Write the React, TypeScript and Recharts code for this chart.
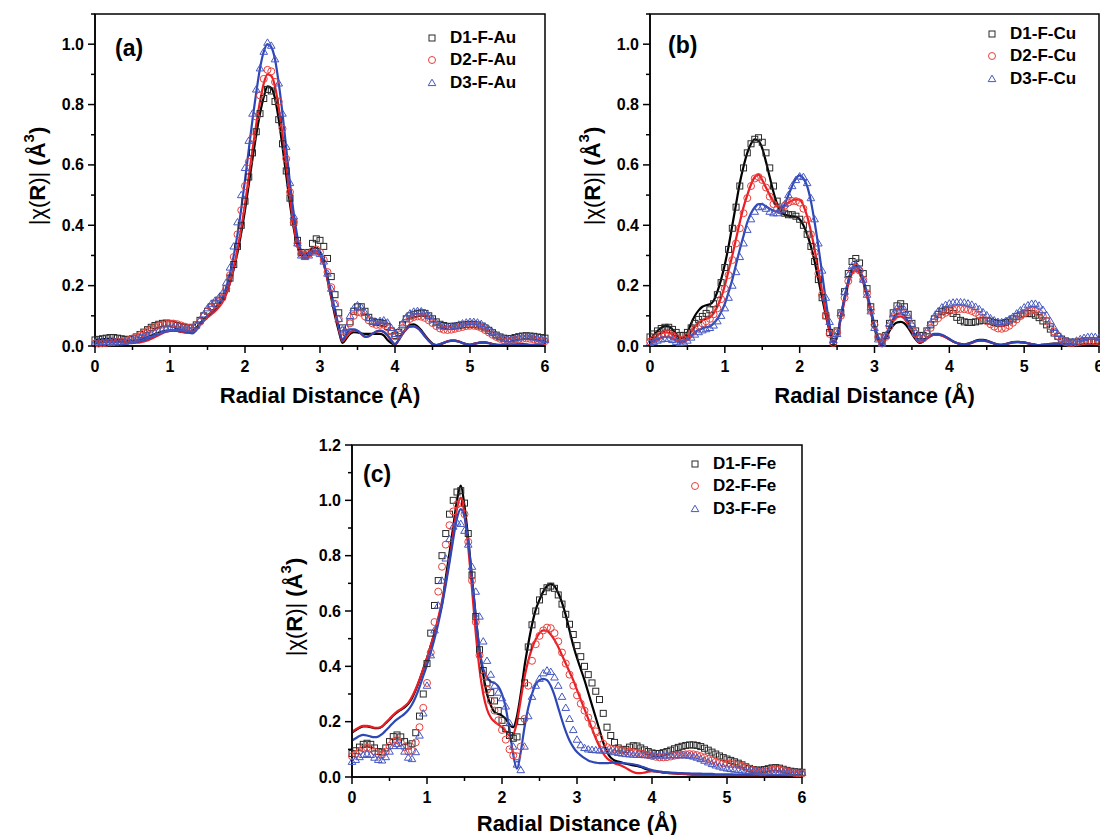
import React from 'react';
import { ComposedChart, Line, Scatter, XAxis, YAxis, ReferenceArea, Legend } from 'recharts';

// radial distance grid (Å)
const R = [
  0, 0.05, 0.1, 0.15, 0.2, 0.25, 0.3, 0.35, 0.4, 0.45,
  0.5, 0.55, 0.6, 0.65, 0.7, 0.75, 0.8, 0.85, 0.9, 0.95,
  1, 1.05, 1.1, 1.15, 1.2, 1.25, 1.3, 1.35, 1.4, 1.45,
  1.5, 1.55, 1.6, 1.65, 1.7, 1.75, 1.8, 1.85, 1.9, 1.95,
  2, 2.05, 2.1, 2.15, 2.2, 2.25, 2.3, 2.35, 2.4, 2.45,
  2.5, 2.55, 2.6, 2.65, 2.7, 2.75, 2.8, 2.85, 2.9, 2.95,
  3, 3.05, 3.1, 3.15, 3.2, 3.25, 3.3, 3.35, 3.4, 3.45,
  3.5, 3.55, 3.6, 3.65, 3.7, 3.75, 3.8, 3.85, 3.9, 3.95,
  4, 4.05, 4.1, 4.15, 4.2, 4.25, 4.3, 4.35, 4.4, 4.45,
  4.5, 4.55, 4.6, 4.65, 4.7, 4.75, 4.8, 4.85, 4.9, 4.95,
  5, 5.05, 5.1, 5.15, 5.2, 5.25, 5.3, 5.35, 5.4, 5.45,
  5.5, 5.55, 5.6, 5.65, 5.7, 5.75, 5.8, 5.85, 5.9, 5.95,
  6,
];

const X_TICKS = [0, 0.5, 1, 1.5, 2, 2.5, 3, 3.5, 4, 4.5, 5, 5.5, 6];
const Y_TICKS_AB = [0, 0.1, 0.2, 0.3, 0.4, 0.5, 0.6, 0.7, 0.8, 0.9, 1.0, 1.1];
const Y_TICKS_C = [0, 0.1, 0.2, 0.3, 0.4, 0.5, 0.6, 0.7, 0.8, 0.9, 1.0, 1.1, 1.2];

const NAMES_A = ['D1-F-Au', 'D2-F-Au', 'D3-F-Au'];
const NAMES_B = ['D1-F-Cu', 'D2-F-Cu', 'D3-F-Cu'];
const NAMES_C = ['D1-F-Fe', 'D2-F-Fe', 'D3-F-Fe'];

// ---- panel (a): Au ----
const A_D1 = [
  0.020, 0.022, 0.024, 0.026, 0.028, 0.028, 0.026, 0.024, 0.022, 0.022,
  0.024, 0.030, 0.038, 0.046, 0.054, 0.062, 0.068, 0.072, 0.075, 0.076,
  0.075, 0.072, 0.068, 0.064, 0.062, 0.060, 0.062, 0.070, 0.085, 0.100,
  0.115, 0.130, 0.142, 0.152, 0.165, 0.190, 0.225, 0.270, 0.330, 0.400,
  0.480, 0.560, 0.640, 0.710, 0.770, 0.820, 0.850, 0.845, 0.810, 0.750,
  0.670, 0.580, 0.490, 0.410, 0.350, 0.310, 0.300, 0.310, 0.340, 0.355,
  0.350, 0.330, 0.290, 0.230, 0.170, 0.110, 0.060, 0.045, 0.080, 0.115,
  0.130, 0.130, 0.115, 0.095, 0.082, 0.078, 0.078, 0.075, 0.065, 0.050,
  0.035, 0.045, 0.070, 0.090, 0.100, 0.105, 0.108, 0.110, 0.108, 0.100,
  0.090, 0.080, 0.072, 0.068, 0.065, 0.065, 0.066, 0.068, 0.070, 0.071,
  0.072, 0.072, 0.070, 0.066, 0.060, 0.052, 0.044, 0.036, 0.030, 0.026,
  0.024, 0.025, 0.028, 0.031, 0.033, 0.034, 0.033, 0.032, 0.030, 0.028,
  0.026,
];
const A_D2 = [
  0.008, 0.008, 0.009, 0.010, 0.012, 0.013, 0.014, 0.015, 0.017, 0.020,
  0.025, 0.030, 0.036, 0.042, 0.050, 0.057, 0.063, 0.068, 0.071, 0.073,
  0.074, 0.074, 0.072, 0.068, 0.064, 0.060, 0.060, 0.066, 0.080, 0.098,
  0.115, 0.128, 0.138, 0.147, 0.160, 0.190, 0.235, 0.295, 0.370, 0.450,
  0.530, 0.610, 0.690, 0.760, 0.830, 0.885, 0.915, 0.910, 0.875, 0.810,
  0.720, 0.620, 0.510, 0.410, 0.340, 0.305, 0.300, 0.305, 0.315, 0.320,
  0.310, 0.285, 0.245, 0.195, 0.140, 0.090, 0.050, 0.045, 0.075, 0.100,
  0.112, 0.110, 0.098, 0.085, 0.075, 0.070, 0.070, 0.070, 0.062, 0.048,
  0.032, 0.038, 0.060, 0.078, 0.090, 0.096, 0.098, 0.097, 0.093, 0.085,
  0.076, 0.066, 0.058, 0.054, 0.053, 0.054, 0.057, 0.060, 0.063, 0.066,
  0.067, 0.067, 0.065, 0.060, 0.053, 0.045, 0.037, 0.030, 0.024, 0.020,
  0.018, 0.018, 0.020, 0.022, 0.024, 0.025, 0.024, 0.022, 0.020, 0.018,
  0.016,
];
const A_D3 = [
  0.012, 0.012, 0.013, 0.014, 0.015, 0.015, 0.014, 0.013, 0.014, 0.016,
  0.020, 0.024, 0.028, 0.032, 0.036, 0.040, 0.045, 0.050, 0.055, 0.058,
  0.060, 0.062, 0.062, 0.060, 0.058, 0.056, 0.058, 0.068, 0.085, 0.105,
  0.125, 0.140, 0.150, 0.160, 0.175, 0.210, 0.260, 0.330, 0.410, 0.500,
  0.590, 0.680, 0.770, 0.850, 0.920, 0.975, 1.005, 0.995, 0.950, 0.870,
  0.770, 0.660, 0.540, 0.430, 0.340, 0.300, 0.295, 0.300, 0.310, 0.315,
  0.305, 0.280, 0.240, 0.190, 0.140, 0.090, 0.055, 0.060, 0.100, 0.125,
  0.135, 0.128, 0.110, 0.092, 0.082, 0.080, 0.083, 0.085, 0.078, 0.060,
  0.040, 0.050, 0.075, 0.095, 0.108, 0.114, 0.116, 0.115, 0.110, 0.100,
  0.088, 0.076, 0.068, 0.064, 0.063, 0.064, 0.067, 0.071, 0.075, 0.078,
  0.080, 0.080, 0.078, 0.073, 0.065, 0.056, 0.046, 0.037, 0.030, 0.025,
  0.022, 0.022, 0.025, 0.028, 0.030, 0.031, 0.030, 0.028, 0.025, 0.022,
  0.020,
];
const A_F1 = [
  0.020, 0.021, 0.022, 0.023, 0.024, 0.023, 0.022, 0.020, 0.018, 0.017,
  0.016, 0.017, 0.020, 0.025, 0.030, 0.035, 0.040, 0.044, 0.048, 0.050,
  0.052, 0.052, 0.050, 0.047, 0.045, 0.046, 0.050, 0.060, 0.075, 0.088,
  0.100, 0.110, 0.120, 0.133, 0.150, 0.175, 0.210, 0.255, 0.310, 0.375,
  0.450, 0.535, 0.620, 0.700, 0.770, 0.825, 0.860, 0.855, 0.820, 0.750,
  0.660, 0.565, 0.470, 0.390, 0.330, 0.305, 0.300, 0.310, 0.325, 0.325,
  0.310, 0.275, 0.220, 0.160, 0.100, 0.050, 0.010, 0.025, 0.040, 0.046,
  0.045, 0.042, 0.040, 0.040, 0.040, 0.040, 0.040, 0.035, 0.020, 0.010,
  0.005, 0.020, 0.040, 0.058, 0.070, 0.072, 0.065, 0.052, 0.035, 0.020,
  0.008, 0.003, 0.005, 0.010, 0.015, 0.018, 0.018, 0.015, 0.010, 0.006,
  0.004, 0.007, 0.010, 0.012, 0.012, 0.010, 0.006, 0.004, 0.004, 0.005,
  0.006, 0.007, 0.008, 0.007, 0.006, 0.005, 0.004, 0.004, 0.005, 0.005,
  0.006,
];
const A_F2 = [
  0.012, 0.013, 0.014, 0.015, 0.016, 0.016, 0.015, 0.014, 0.012, 0.011,
  0.010, 0.011, 0.012, 0.015, 0.018, 0.024, 0.030, 0.036, 0.042, 0.047,
  0.050, 0.051, 0.050, 0.047, 0.045, 0.045, 0.048, 0.057, 0.070, 0.083,
  0.095, 0.105, 0.115, 0.128, 0.145, 0.172, 0.210, 0.260, 0.320, 0.390,
  0.470, 0.560, 0.650, 0.735, 0.810, 0.870, 0.900, 0.895, 0.860, 0.790,
  0.700, 0.595, 0.490, 0.400, 0.330, 0.300, 0.290, 0.295, 0.310, 0.310,
  0.300, 0.270, 0.220, 0.165, 0.110, 0.058, 0.015, 0.030, 0.045, 0.050,
  0.050, 0.040, 0.030, 0.032, 0.040, 0.047, 0.050, 0.046, 0.035, 0.018,
  0.005, 0.020, 0.040, 0.055, 0.065, 0.066, 0.060, 0.048, 0.032, 0.018,
  0.006, 0.003, 0.006, 0.011, 0.016, 0.018, 0.018, 0.015, 0.010, 0.006,
  0.004, 0.007, 0.010, 0.012, 0.012, 0.010, 0.006, 0.004, 0.003, 0.004,
  0.005, 0.006, 0.007, 0.006, 0.005, 0.004, 0.003, 0.003, 0.004, 0.004,
  0.005,
];
const A_F3 = [
  0.010, 0.011, 0.012, 0.013, 0.014, 0.014, 0.014, 0.013, 0.012, 0.012,
  0.012, 0.014, 0.016, 0.020, 0.024, 0.030, 0.035, 0.040, 0.045, 0.048,
  0.050, 0.052, 0.052, 0.050, 0.048, 0.044, 0.042, 0.052, 0.070, 0.085,
  0.100, 0.112, 0.125, 0.140, 0.160, 0.195, 0.240, 0.300, 0.370, 0.455,
  0.550, 0.650, 0.750, 0.840, 0.920, 0.975, 1.000, 0.990, 0.950, 0.870,
  0.770, 0.655, 0.540, 0.440, 0.360, 0.315, 0.300, 0.305, 0.315, 0.315,
  0.305, 0.275, 0.230, 0.175, 0.120, 0.065, 0.020, 0.040, 0.055, 0.055,
  0.051, 0.041, 0.031, 0.033, 0.041, 0.048, 0.051, 0.047, 0.036, 0.019,
  0.006, 0.021, 0.041, 0.056, 0.064, 0.065, 0.059, 0.047, 0.031, 0.017,
  0.006, 0.003, 0.006, 0.011, 0.015, 0.017, 0.017, 0.014, 0.010, 0.006,
  0.004, 0.007, 0.009, 0.011, 0.011, 0.009, 0.006, 0.004, 0.003, 0.004,
  0.005, 0.006, 0.006, 0.006, 0.005, 0.004, 0.003, 0.003, 0.004, 0.004,
  0.005,
];

// ---- panel (b): Cu ----
const B_D1 = [
  0.030, 0.040, 0.050, 0.058, 0.062, 0.062, 0.055, 0.045, 0.035, 0.035,
  0.045, 0.060, 0.075, 0.088, 0.098, 0.108, 0.120, 0.140, 0.170, 0.210,
  0.260, 0.320, 0.390, 0.460, 0.530, 0.590, 0.640, 0.670, 0.685, 0.690,
  0.675, 0.640, 0.590, 0.530, 0.480, 0.450, 0.440, 0.435, 0.435, 0.430,
  0.420, 0.400, 0.370, 0.330, 0.280, 0.220, 0.160, 0.100, 0.045, 0.015,
  0.050, 0.110, 0.180, 0.240, 0.280, 0.290, 0.275, 0.240, 0.190, 0.130,
  0.075, 0.030, 0.010, 0.035, 0.075, 0.110, 0.133, 0.140, 0.130, 0.105,
  0.075, 0.050, 0.035, 0.035, 0.050, 0.070, 0.090, 0.105, 0.115, 0.120,
  0.118, 0.108, 0.095, 0.085, 0.080, 0.078, 0.078, 0.080, 0.083, 0.085,
  0.085, 0.082, 0.078, 0.075, 0.075, 0.078, 0.083, 0.090, 0.097, 0.103,
  0.107, 0.108, 0.107, 0.102, 0.094, 0.083, 0.070, 0.056, 0.043, 0.032,
  0.023, 0.017, 0.013, 0.012, 0.013, 0.015, 0.017, 0.018, 0.018, 0.017,
  0.015,
];
const B_D2 = [
  0.015, 0.022, 0.030, 0.036, 0.040, 0.040, 0.035, 0.027, 0.020, 0.022,
  0.030, 0.042, 0.055, 0.066, 0.075, 0.082, 0.090, 0.105, 0.125, 0.155,
  0.190, 0.235, 0.285, 0.340, 0.390, 0.440, 0.490, 0.530, 0.555, 0.560,
  0.550, 0.525, 0.495, 0.470, 0.455, 0.455, 0.465, 0.475, 0.480, 0.480,
  0.475, 0.455, 0.420, 0.370, 0.310, 0.240, 0.170, 0.100, 0.040, 0.010,
  0.045, 0.100, 0.160, 0.215, 0.250, 0.260, 0.250, 0.220, 0.175, 0.120,
  0.070, 0.030, 0.008, 0.030, 0.065, 0.095, 0.113, 0.118, 0.110, 0.090,
  0.065, 0.040, 0.025, 0.025, 0.040, 0.060, 0.078, 0.092, 0.103, 0.110,
  0.116, 0.120, 0.122, 0.123, 0.122, 0.120, 0.116, 0.110, 0.102, 0.092,
  0.082, 0.072, 0.064, 0.058, 0.057, 0.060, 0.067, 0.077, 0.088, 0.099,
  0.108, 0.115, 0.118, 0.117, 0.110, 0.098, 0.082, 0.065, 0.048, 0.033,
  0.021, 0.013, 0.010, 0.010, 0.012, 0.014, 0.016, 0.017, 0.017, 0.016,
  0.014,
];
const B_D3 = [
  0.010, 0.014, 0.018, 0.022, 0.024, 0.024, 0.020, 0.014, 0.010, 0.012,
  0.018, 0.028, 0.038, 0.046, 0.052, 0.056, 0.060, 0.068, 0.082, 0.100,
  0.125, 0.160, 0.200, 0.245, 0.295, 0.340, 0.385, 0.420, 0.445, 0.460,
  0.462, 0.455, 0.445, 0.440, 0.440, 0.450, 0.470, 0.500, 0.530, 0.550,
  0.562, 0.560, 0.540, 0.490, 0.420, 0.340, 0.250, 0.160, 0.080, 0.020,
  0.040, 0.110, 0.180, 0.235, 0.265, 0.270, 0.255, 0.220, 0.170, 0.115,
  0.060, 0.022, 0.008, 0.035, 0.075, 0.105, 0.125, 0.130, 0.120, 0.100,
  0.072, 0.045, 0.028, 0.030, 0.050, 0.075, 0.098, 0.115, 0.128, 0.136,
  0.141, 0.144, 0.145, 0.145, 0.144, 0.141, 0.137, 0.130, 0.122, 0.112,
  0.102, 0.092, 0.085, 0.080, 0.079, 0.082, 0.088, 0.097, 0.108, 0.118,
  0.128, 0.135, 0.140, 0.140, 0.134, 0.120, 0.102, 0.082, 0.060, 0.040,
  0.025, 0.015, 0.012, 0.014, 0.018, 0.023, 0.027, 0.030, 0.031, 0.030,
  0.027,
];
const B_F1 = [
  0.020, 0.035, 0.050, 0.060, 0.066, 0.065, 0.055, 0.040, 0.025, 0.028,
  0.045, 0.075, 0.100, 0.118, 0.130, 0.135, 0.138, 0.150, 0.180, 0.220,
  0.270, 0.330, 0.400, 0.470, 0.540, 0.595, 0.640, 0.670, 0.685, 0.680,
  0.655, 0.610, 0.560, 0.510, 0.470, 0.445, 0.435, 0.432, 0.430, 0.428,
  0.420, 0.400, 0.370, 0.330, 0.280, 0.220, 0.160, 0.100, 0.050, 0.010,
  0.030, 0.095, 0.160, 0.215, 0.255, 0.265, 0.250, 0.215, 0.170, 0.115,
  0.060, 0.020, 0.005, 0.025, 0.050, 0.068, 0.078, 0.080, 0.075, 0.060,
  0.040, 0.022, 0.010, 0.015, 0.025, 0.033, 0.038, 0.038, 0.035, 0.030,
  0.022, 0.015, 0.010, 0.007, 0.005, 0.008, 0.012, 0.017, 0.020, 0.020,
  0.018, 0.013, 0.008, 0.005, 0.004, 0.006, 0.010, 0.013, 0.014, 0.013,
  0.012, 0.009, 0.006, 0.004, 0.003, 0.004, 0.005, 0.007, 0.008, 0.008,
  0.008, 0.007, 0.005, 0.004, 0.003, 0.003, 0.004, 0.005, 0.006, 0.006,
  0.005,
];
const B_F2 = [
  0.012, 0.022, 0.035, 0.042, 0.045, 0.044, 0.038, 0.028, 0.018, 0.018,
  0.030, 0.048, 0.065, 0.078, 0.085, 0.090, 0.095, 0.108, 0.130, 0.160,
  0.200, 0.250, 0.300, 0.355, 0.410, 0.460, 0.500, 0.535, 0.560, 0.568,
  0.550, 0.525, 0.500, 0.478, 0.462, 0.460, 0.465, 0.475, 0.482, 0.486,
  0.485, 0.465, 0.430, 0.380, 0.320, 0.250, 0.180, 0.110, 0.050, 0.010,
  0.030, 0.090, 0.150, 0.205, 0.240, 0.252, 0.240, 0.210, 0.165, 0.115,
  0.065, 0.025, 0.005, 0.030, 0.060, 0.082, 0.095, 0.098, 0.090, 0.072,
  0.050, 0.028, 0.012, 0.016, 0.025, 0.033, 0.038, 0.038, 0.035, 0.029,
  0.022, 0.015, 0.010, 0.006, 0.004, 0.007, 0.010, 0.015, 0.018, 0.018,
  0.016, 0.012, 0.008, 0.005, 0.004, 0.006, 0.009, 0.012, 0.013, 0.012,
  0.011, 0.009, 0.006, 0.004, 0.003, 0.004, 0.005, 0.006, 0.007, 0.007,
  0.007, 0.006, 0.005, 0.004, 0.003, 0.003, 0.004, 0.005, 0.005, 0.005,
  0.005,
];
const B_F3 = [
  0.008, 0.015, 0.022, 0.027, 0.030, 0.029, 0.025, 0.018, 0.012, 0.013,
  0.020, 0.032, 0.045, 0.053, 0.058, 0.062, 0.065, 0.075, 0.090, 0.112,
  0.140, 0.178, 0.220, 0.270, 0.320, 0.365, 0.410, 0.440, 0.460, 0.470,
  0.470, 0.462, 0.455, 0.448, 0.445, 0.452, 0.470, 0.500, 0.530, 0.555,
  0.565, 0.555, 0.530, 0.480, 0.410, 0.330, 0.240, 0.150, 0.070, 0.015,
  0.030, 0.100, 0.160, 0.215, 0.255, 0.265, 0.255, 0.220, 0.175, 0.125,
  0.070, 0.028, 0.005, 0.035, 0.065, 0.090, 0.105, 0.108, 0.100, 0.080,
  0.055, 0.032, 0.015, 0.018, 0.028, 0.036, 0.040, 0.040, 0.037, 0.031,
  0.024, 0.016, 0.010, 0.006, 0.004, 0.007, 0.011, 0.016, 0.018, 0.018,
  0.016, 0.012, 0.008, 0.005, 0.004, 0.006, 0.009, 0.012, 0.013, 0.012,
  0.011, 0.009, 0.006, 0.004, 0.003, 0.004, 0.005, 0.006, 0.007, 0.007,
  0.007, 0.006, 0.005, 0.004, 0.003, 0.003, 0.004, 0.005, 0.005, 0.005,
  0.005,
];

// ---- panel (c): Fe ----
const C_D1 = [
  0.085, 0.095, 0.108, 0.118, 0.122, 0.118, 0.105, 0.092, 0.090, 0.105,
  0.128, 0.146, 0.152, 0.145, 0.128, 0.112, 0.120, 0.160, 0.220, 0.300,
  0.410, 0.520, 0.620, 0.710, 0.800, 0.880, 0.950, 1.000, 1.030, 1.035,
  0.990, 0.880, 0.730, 0.580, 0.460, 0.385, 0.340, 0.305, 0.275, 0.240,
  0.205, 0.175, 0.150, 0.140, 0.145, 0.200, 0.340, 0.470, 0.550, 0.600,
  0.640, 0.670, 0.684, 0.690, 0.682, 0.658, 0.625, 0.588, 0.552, 0.515,
  0.475, 0.435, 0.400, 0.370, 0.340, 0.310, 0.280, 0.230, 0.180, 0.150,
  0.125, 0.105, 0.098, 0.100, 0.108, 0.113, 0.112, 0.105, 0.098, 0.092,
  0.087, 0.085, 0.085, 0.088, 0.092, 0.097, 0.102, 0.107, 0.111, 0.114,
  0.116, 0.116, 0.114, 0.110, 0.104, 0.097, 0.090, 0.083, 0.076, 0.070,
  0.065, 0.060, 0.055, 0.050, 0.044, 0.037, 0.031, 0.027, 0.025, 0.025,
  0.027, 0.030, 0.033, 0.034, 0.032, 0.028, 0.024, 0.021, 0.019, 0.018,
  0.017,
];
const C_D2 = [
  0.075, 0.083, 0.094, 0.102, 0.106, 0.102, 0.092, 0.082, 0.080, 0.092,
  0.112, 0.128, 0.133, 0.125, 0.108, 0.092, 0.095, 0.125, 0.180, 0.250,
  0.340, 0.450, 0.560, 0.670, 0.760, 0.840, 0.910, 0.960, 0.985, 0.990,
  0.950, 0.850, 0.710, 0.560, 0.440, 0.365, 0.315, 0.275, 0.240, 0.205,
  0.170, 0.135, 0.100, 0.078, 0.075, 0.110, 0.210, 0.330, 0.420, 0.480,
  0.510, 0.530, 0.540, 0.538, 0.520, 0.490, 0.450, 0.410, 0.370, 0.330,
  0.295, 0.265, 0.240, 0.215, 0.190, 0.165, 0.140, 0.120, 0.108, 0.102,
  0.100, 0.098, 0.096, 0.094, 0.092, 0.090, 0.088, 0.085, 0.082, 0.079,
  0.076, 0.073, 0.071, 0.071, 0.072, 0.074, 0.077, 0.079, 0.081, 0.082,
  0.083, 0.082, 0.079, 0.075, 0.070, 0.065, 0.060, 0.055, 0.052, 0.050,
  0.048, 0.047, 0.046, 0.044, 0.040, 0.035, 0.030, 0.025, 0.021, 0.019,
  0.019, 0.022, 0.026, 0.028, 0.027, 0.024, 0.020, 0.017, 0.015, 0.013,
  0.012,
];
const C_D3 = [
  0.055, 0.062, 0.072, 0.080, 0.083, 0.080, 0.070, 0.062, 0.060, 0.072,
  0.092, 0.112, 0.120, 0.112, 0.092, 0.070, 0.065, 0.090, 0.150, 0.230,
  0.330, 0.440, 0.530, 0.620, 0.710, 0.790, 0.860, 0.905, 0.920, 0.915,
  0.890, 0.840, 0.760, 0.670, 0.580, 0.490, 0.420, 0.370, 0.330, 0.305,
  0.285, 0.255, 0.195, 0.110, 0.045, 0.025, 0.110, 0.220, 0.290, 0.330,
  0.355, 0.375, 0.385, 0.380, 0.360, 0.330, 0.290, 0.250, 0.210, 0.170,
  0.135, 0.115, 0.105, 0.100, 0.098, 0.097, 0.096, 0.096, 0.095, 0.093,
  0.090, 0.087, 0.085, 0.083, 0.082, 0.081, 0.080, 0.080, 0.079, 0.079,
  0.078, 0.078, 0.078, 0.078, 0.078, 0.079, 0.079, 0.079, 0.079, 0.078,
  0.077, 0.074, 0.070, 0.065, 0.059, 0.053, 0.047, 0.042, 0.038, 0.034,
  0.031, 0.029, 0.027, 0.025, 0.024, 0.023, 0.022, 0.021, 0.020, 0.019,
  0.018, 0.018, 0.018, 0.018, 0.018, 0.017, 0.017, 0.016, 0.016, 0.015,
  0.015,
];
const C_F1 = [
  0.160, 0.170, 0.178, 0.183, 0.183, 0.180, 0.177, 0.177, 0.182, 0.195,
  0.208, 0.222, 0.234, 0.243, 0.252, 0.265, 0.285, 0.315, 0.350, 0.390,
  0.430, 0.475, 0.520, 0.570, 0.625, 0.720, 0.810, 0.905, 1.000, 1.053,
  0.980, 0.860, 0.720, 0.580, 0.460, 0.370, 0.300, 0.260, 0.235, 0.228,
  0.222, 0.210, 0.190, 0.180, 0.220, 0.300, 0.400, 0.480, 0.550, 0.605,
  0.640, 0.670, 0.690, 0.698, 0.690, 0.665, 0.630, 0.585, 0.530, 0.475,
  0.430, 0.390, 0.350, 0.305, 0.260, 0.215, 0.170, 0.125, 0.090, 0.070,
  0.060, 0.056, 0.052, 0.048, 0.045, 0.042, 0.040, 0.036, 0.031, 0.026,
  0.022, 0.020, 0.018, 0.016, 0.015, 0.014, 0.013, 0.012, 0.012, 0.011,
  0.010, 0.009, 0.008, 0.008, 0.007, 0.007, 0.006, 0.006, 0.005, 0.005,
  0.005, 0.005, 0.005, 0.005, 0.004, 0.004, 0.004, 0.004, 0.004, 0.004,
  0.004, 0.004, 0.004, 0.004, 0.004, 0.004, 0.003, 0.003, 0.003, 0.003,
  0.003,
];
const C_F2 = [
  0.162, 0.172, 0.180, 0.185, 0.185, 0.182, 0.178, 0.178, 0.183, 0.196,
  0.210, 0.224, 0.236, 0.245, 0.255, 0.268, 0.290, 0.318, 0.352, 0.390,
  0.430, 0.475, 0.520, 0.575, 0.635, 0.705, 0.785, 0.880, 0.970, 1.010,
  0.950, 0.830, 0.680, 0.520, 0.390, 0.300, 0.245, 0.215, 0.200, 0.190,
  0.180, 0.165, 0.150, 0.155, 0.200, 0.280, 0.360, 0.420, 0.465, 0.498,
  0.520, 0.530, 0.528, 0.515, 0.495, 0.470, 0.440, 0.410, 0.380, 0.350,
  0.315, 0.280, 0.245, 0.210, 0.175, 0.140, 0.110, 0.085, 0.068, 0.058,
  0.050, 0.045, 0.040, 0.033, 0.025, 0.018, 0.014, 0.014, 0.016, 0.019,
  0.021, 0.021, 0.019, 0.017, 0.015, 0.014, 0.013, 0.012, 0.011, 0.010,
  0.009, 0.008, 0.008, 0.007, 0.007, 0.006, 0.006, 0.006, 0.005, 0.005,
  0.005, 0.005, 0.005, 0.004, 0.004, 0.004, 0.004, 0.004, 0.004, 0.004,
  0.004, 0.004, 0.004, 0.004, 0.003, 0.003, 0.003, 0.003, 0.003, 0.003,
  0.003,
];
const C_F3 = [
  0.132, 0.140, 0.148, 0.152, 0.150, 0.146, 0.144, 0.146, 0.155, 0.168,
  0.182, 0.196, 0.208, 0.218, 0.228, 0.242, 0.262, 0.290, 0.325, 0.365,
  0.405, 0.450, 0.500, 0.555, 0.620, 0.695, 0.775, 0.860, 0.935, 0.968,
  0.940, 0.850, 0.720, 0.580, 0.460, 0.390, 0.360, 0.345, 0.340, 0.328,
  0.300, 0.250, 0.170, 0.080, 0.030, 0.090, 0.180, 0.250, 0.300, 0.335,
  0.350, 0.355, 0.350, 0.330, 0.295, 0.250, 0.205, 0.165, 0.132, 0.108,
  0.090, 0.078, 0.068, 0.060, 0.055, 0.052, 0.050, 0.050, 0.050, 0.051,
  0.052, 0.051, 0.050, 0.049, 0.048, 0.046, 0.043, 0.039, 0.034, 0.029,
  0.025, 0.022, 0.020, 0.018, 0.017, 0.016, 0.015, 0.014, 0.014, 0.013,
  0.013, 0.012, 0.012, 0.012, 0.011, 0.011, 0.011, 0.010, 0.010, 0.010,
  0.010, 0.010, 0.009, 0.009, 0.009, 0.008, 0.008, 0.008, 0.008, 0.008,
  0.008, 0.007, 0.007, 0.007, 0.007, 0.006, 0.006, 0.006, 0.006, 0.006,
  0.006,
];

const buildRows = (d1: number[], d2: number[], d3: number[], f1: number[], f2: number[], f3: number[]) =>
  R.map((r, i) => ({ r, d1: d1[i], d2: d2[i], d3: d3[i], f1: f1[i], f2: f2[i], f3: f3[i] }));

const ROWS_A = buildRows(A_D1, A_D2, A_D3, A_F1, A_F2, A_F3);
const ROWS_B = buildRows(B_D1, B_D2, B_D3, B_F1, B_F2, B_F3);
const ROWS_C = buildRows(C_D1, C_D2, C_D3, C_F1, C_F2, C_F3);

const FONT = "'Liberation Sans', Arial, Helvetica, sans-serif";
const MARK = ['#2a2a2a', '#e8403b', '#4658c2'];
const FIT = ['#000000', '#ec1c24', '#2d47b6'];

const Marker = ({ kind, cx, cy, color }: any) => {
  if (cx == null || cy == null) return null;
  if (kind === 0) {
    return <rect x={cx - 3} y={cy - 3} width={6} height={6} fill="none" stroke={color} strokeWidth={1} />;
  }
  if (kind === 1) {
    return <circle cx={cx} cy={cy} r={3.5} fill="none" stroke={color} strokeWidth={1} />;
  }
  return (
    <path
      d={`M${cx},${cy - 3.8}L${cx + 3.8},${cy + 2.6}L${cx - 3.8},${cy + 2.6}Z`}
      fill="none"
      stroke={color}
      strokeWidth={1}
    />
  );
};

const XTick = (props: any) => {
  const { x, y, payload } = props;
  const v = payload.value;
  const major = Math.abs(v - Math.round(v)) < 1e-6;
  return (
    <g>
      <line x1={x} x2={x} y1={y} y2={y + (major ? 7 : 4)} stroke="#000" strokeWidth={1.5} />
      {major && (
        <text x={x} y={y + 20} textAnchor="middle" dominantBaseline="central"
          fontFamily={FONT} fontWeight="bold" fontSize={16} fill="#000">
          {Math.round(v)}
        </text>
      )}
    </g>
  );
};

const YTick = (props: any) => {
  const { x, y, payload } = props;
  const v = payload.value;
  const major = Math.round(v * 10) % 2 === 0;
  return (
    <g>
      <line x1={x - (major ? 7 : 4)} x2={x} y1={y} y2={y} stroke="#000" strokeWidth={1.5} />
      {major && (
        <text x={x - 11} y={y} textAnchor="end" dominantBaseline="central"
          fontFamily={FONT} fontWeight="bold" fontSize={16} fill="#000">
          {v.toFixed(1)}
        </text>
      )}
    </g>
  );
};

const XTitle = (props: any) => {
  const vb = props.viewBox;
  if (!vb) return null;
  return (
    <text x={vb.x + vb.width / 2} y={vb.y + props.gap} textAnchor="middle" dominantBaseline="central"
      fontFamily={FONT} fontWeight="bold" fontSize={22} fill="#000">
      Radial Distance (Å)
    </text>
  );
};

const YTitle = (props: any) => {
  const vb = props.viewBox;
  if (!vb) return null;
  const cx = vb.x + vb.width - 58;
  const cy = vb.y + vb.height / 2 - 4;
  return (
    <text transform={`rotate(-90 ${cx} ${cy})`} x={cx} y={cy} textAnchor="middle"
      dominantBaseline="central" fontFamily={FONT} fontSize={22} fill="#000">
      <tspan>|χ(</tspan>
      <tspan fontWeight="bold">R</tspan>
      <tspan>)| </tspan>
      <tspan fontWeight="bold">(Å</tspan>
      <tspan fontWeight="bold" fontSize={15} dy={-9}>3</tspan>
      <tspan fontWeight="bold" dy={9}>)</tspan>
    </text>
  );
};

const PanelTag = (props: any) => {
  const vb = props.viewBox;
  if (!vb) return null;
  return (
    <text x={vb.x + props.dx} y={vb.y + props.dy} dominantBaseline="central"
      fontFamily={FONT} fontWeight="bold" fontSize={23} fill="#000">
      {props.tag}
    </text>
  );
};

const legendContent = (names: string[]) => () => (
  <div style={{ fontFamily: FONT, fontWeight: 'bold', fontSize: 17, color: '#000' }}>
    {names.map((n, i) => (
      <div key={n} style={{ display: 'flex', alignItems: 'center', height: 22.3, lineHeight: '22px' }}>
        <svg width={14} height={14} style={{ marginRight: 11, overflow: 'visible' }}>
          <Marker kind={i} cx={7} cy={7} color={MARK[i]} />
        </svg>
        <span>{n}</span>
      </div>
    ))}
  </div>
);

type PanelProps = {
  rows: any[];
  names: string[];
  yMax: number;
  yTicks: number[];
  tag: string;
  tagDx: number;
  tagDy: number;
  left: number;
  top: number;
  width: number;
  height: number;
  axisHeight: number;
  titleGap: number;
  marginRight: number;
  legendLeft: number;
  legendTop: number;
};

const Panel = (p: PanelProps) => (
  <div style={{ position: 'absolute', left: p.left, top: p.top }}>
    <ComposedChart width={p.width} height={p.height} data={p.rows}
      margin={{ top: 14, right: p.marginRight, bottom: 0, left: 0 }}>
      <XAxis type="number" dataKey="r" domain={[0, 6]} ticks={X_TICKS} interval={0}
        tick={<XTick />} tickLine={false} tickSize={0} tickMargin={0} height={p.axisHeight}
        axisLine={{ stroke: '#000', strokeWidth: 1.5 }} label={<XTitle gap={p.titleGap} />} />
      <YAxis type="number" domain={[0, p.yMax]} ticks={p.yTicks} interval={0}
        tick={<YTick />} tickLine={false} tickSize={0} tickMargin={0} width={95}
        axisLine={{ stroke: '#000', strokeWidth: 1.5 }} label={<YTitle />} />
      <ReferenceArea x1={0} x2={6} y1={0} y2={p.yMax} fill="none" fillOpacity={0}
        stroke="#000" strokeWidth={1.5}
        label={<PanelTag tag={p.tag} dx={p.tagDx} dy={p.tagDy} />} />
      {['d1', 'd2', 'd3'].map((k, i) => (
        <Scatter key={k} dataKey={k} isAnimationActive={false}
          shape={(sp: any) => <Marker kind={i} cx={sp.cx} cy={sp.cy} color={MARK[i]} />} />
      ))}
      {['f1', 'f2', 'f3'].map((k, i) => (
        <Line key={k} type="monotone" dataKey={k} stroke={FIT[i]} strokeWidth={2.2}
          dot={false} activeDot={false} isAnimationActive={false} />
      ))}
      <Legend layout="vertical" align="center" verticalAlign="middle"
        content={legendContent(p.names)}
        wrapperStyle={{ left: p.legendLeft, top: p.legendTop, width: 130, height: 70 }} />
    </ComposedChart>
  </div>
);

export default function App() {
  return (
    <div style={{ position: 'absolute', left: 0, top: 0, width: 1100, height: 835, background: '#fff', overflow: 'hidden' }}>
      <Panel rows={ROWS_A} names={NAMES_A} yMax={1.1} yTicks={Y_TICKS_AB} tag="(a)" tagDx={20} tagDy={34}
        left={0} top={0} width={560} height={425} axisHeight={79} titleGap={49} marginRight={15}
        legendLeft={425} legendTop={27} />
      <Panel rows={ROWS_B} names={NAMES_B} yMax={1.1} yTicks={Y_TICKS_AB} tag="(b)" tagDx={18} tagDy={31}
        left={555} top={0} width={545} height={425} axisHeight={79} titleGap={49} marginRight={1}
        legendLeft={430} legendTop={23} />
      <Panel rows={ROWS_C} names={NAMES_C} yMax={1.2} yTicks={Y_TICKS_C} tag="(c)" tagDx={11} tagDy={29}
        left={257} top={431} width={560} height={404} axisHeight={58} titleGap={46} marginRight={15}
        legendLeft={431} legendTop={22} />
    </div>
  );
}
